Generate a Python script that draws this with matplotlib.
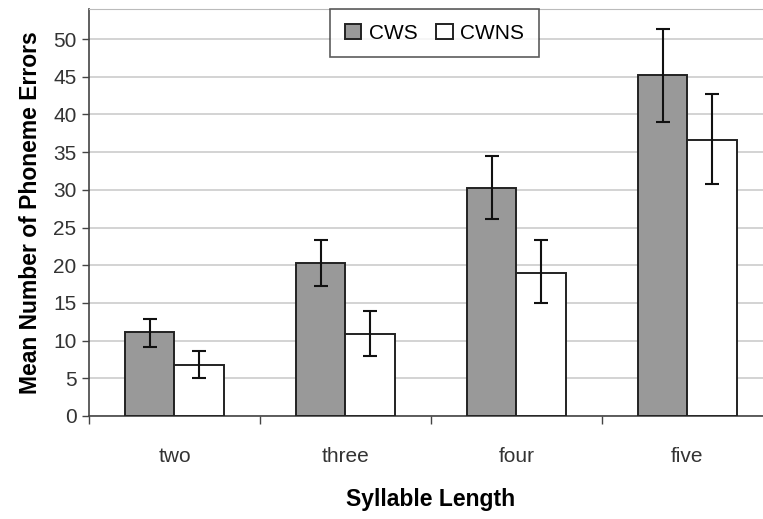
import numpy as np
import matplotlib.pyplot as plt

plt.rcParams['font.family'] = ['Liberation Sans', 'DejaVu Sans']

# data
categories = ['two', 'three', 'four', 'five']
cws = [11.2, 20.3, 30.2, 45.2]
cws_lo = [9.2, 17.3, 26.2, 39.0]
cws_hi = [12.9, 23.3, 34.5, 51.3]
cwns = [6.7, 10.9, 19.0, 36.6]
cwns_lo = [5.0, 8.0, 15.0, 30.8]
cwns_hi = [8.6, 13.9, 23.3, 42.7]

x = np.arange(len(categories))
w = 0.29

fig = plt.figure(figsize=(7.63, 5.19), dpi=100)
ax = fig.add_axes([0.1166, 0.1985, 0.8964, 0.7842])

cws = np.array(cws); cwns = np.array(cwns)
err1 = [cws - np.array(cws_lo), np.array(cws_hi) - cws]
err2 = [cwns - np.array(cwns_lo), np.array(cwns_hi) - cwns]

ax.bar(x - w/2, cws, w, color='#999999', edgecolor='#222222', linewidth=1.4,
       label='CWS', zorder=3)
ax.bar(x + w/2, cwns, w, color='white', edgecolor='#222222', linewidth=1.4,
       label='CWNS', zorder=3)
ax.errorbar(x - w/2, cws, yerr=err1, fmt='none', ecolor='#111111',
            elinewidth=1.5, capsize=5, capthick=1.5, zorder=4)
ax.errorbar(x + w/2, cwns, yerr=err2, fmt='none', ecolor='#111111',
            elinewidth=1.5, capsize=5, capthick=1.5, zorder=4)

ax.set_ylim(0, 54)
ax.set_xlim(-0.5, 3.5)
ax.set_yticks(np.arange(0, 51, 5))
ax.yaxis.grid(True, color='#d0d0d0', linewidth=1.3, zorder=0)

ax.set_xticks(np.arange(-0.5, 3.6, 1))
ax.set_xticklabels([])
ax.set_xticks(x, minor=True)
ax.set_xticklabels(categories, minor=True)
ax.tick_params(axis='x', which='major', length=6, width=1, color='#444444')
ax.tick_params(axis='x', which='minor', length=0, pad=22, labelsize=15, labelcolor='#333333')
ax.tick_params(axis='y', length=5, width=1, color='#444444', labelsize=15, labelcolor='#333333',
               pad=4)

for s in ['left', 'bottom']:
    ax.spines[s].set_color('#444444')
    ax.spines[s].set_linewidth(1.2)
ax.spines['top'].set_color('#bbbbbb')
ax.spines['right'].set_visible(False)

ax.set_ylabel('Mean Number of Phoneme Errors', fontsize=16.5, fontweight='bold', labelpad=8)
ax.set_xlabel('Syllable Length', fontsize=16.5, fontweight='bold', labelpad=16)

leg = ax.legend(loc='upper center', bbox_to_anchor=(0.505, 1.0), ncol=2, fontsize=15,
                frameon=True, fancybox=False, edgecolor='#333333',
                handlelength=0.8, handleheight=0.8, handletextpad=0.35,
                columnspacing=0.9, borderpad=0.7, borderaxespad=0)
leg.get_frame().set_linewidth(1.2)

fig.savefig('out.png', dpi=100)
